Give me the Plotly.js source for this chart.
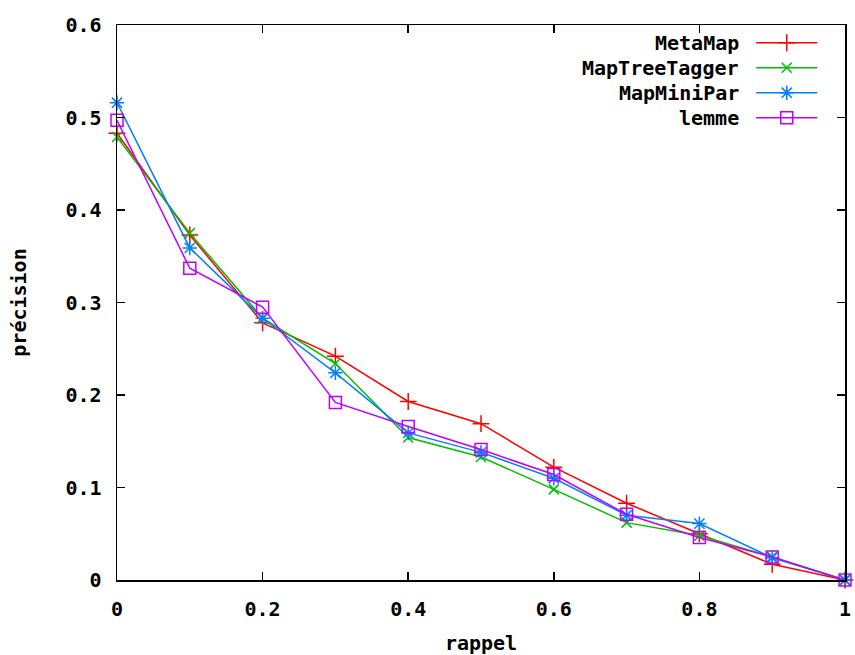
<!DOCTYPE html>
<html><head><meta charset="utf-8">
<script src="https://cdn.plot.ly/plotly-3.0.1.min.js"></script>
<style>body{margin:0;background:#fff}#chart{width:855px;height:655px}</style>
</head><body><div id="chart"></div>
<script>
const rappel = [0, 0.1, 0.2, 0.3, 0.4, 0.5, 0.6, 0.7, 0.8, 0.9, 1];
const metaMap       = [0.483, 0.373, 0.278, 0.242, 0.193, 0.169, 0.122, 0.083, 0.050, 0.017, 0];
const mapTreeTagger = [0.479, 0.375, 0.283, 0.234, 0.154, 0.133, 0.098, 0.062, 0.048, 0.025, 0];
const mapMiniPar    = [0.516, 0.359, 0.283, 0.224, 0.159, 0.138, 0.110, 0.070, 0.061, 0.024, 0];
const lemme         = [0.497, 0.337, 0.295, 0.192, 0.166, 0.141, 0.114, 0.071, 0.046, 0.025, 0];
const seriesNames = ['MetaMap', 'MapTreeTagger', 'MapMiniPar', 'lemme'];
const seriesData = [metaMap, mapTreeTagger, mapMiniPar, lemme];
const colors = ['#ff0000', '#00c000', '#0080ff', '#c000ff'];
const symbols = ['cross-thin-open', 'x-thin-open', 'asterisk-open', 'square-open'];
const sizes = [12, 10, 12, 12];
const xTicks = [0, 0.2, 0.4, 0.6, 0.8, 1];
const xTickText = ['0', '0.2', '0.4', '0.6', '0.8', '1'];
const yTicks = [0, 0.1, 0.2, 0.3, 0.4, 0.5, 0.6];
const yTickText = ['0', '0.1', '0.2', '0.3', '0.4', '0.5', '0.6'];

const FONT = '"DejaVu Sans Mono", "Liberation Mono", monospace';
const traces = [];
const shapes = [];
const annotations = [];
// legend rows (paper coords)
const legY = [0.968, 0.923, 0.878, 0.833];
seriesNames.forEach((n, i) => {
  traces.push({
    x: rappel, y: seriesData[i], type: 'scatter', mode: 'lines+markers', name: n,
    line: {color: colors[i], width: 1.5},
    marker: {symbol: symbols[i], size: sizes[i], color: colors[i], line: {color: colors[i], width: 1.5}},
    showlegend: false, cliponaxis: false
  });
  shapes.push({type: 'line', xref: 'paper', yref: 'paper', x0: 0.878, x1: 0.962, y0: legY[i], y1: legY[i],
    line: {color: colors[i], width: 1.5}});
  traces.push({
    x: [0.92], y: [legY[i]], xaxis: 'x2', yaxis: 'y2', type: 'scatter', mode: 'markers', showlegend: false,
    hoverinfo: 'skip',
    marker: {symbol: symbols[i], size: sizes[i], color: colors[i], line: {color: colors[i], width: 1.5}}
  });
  annotations.push({xref: 'paper', yref: 'paper', x: 0.857, y: legY[i], xanchor: 'right', yanchor: 'middle',
    text: '<b>' + n + '</b>', showarrow: false, font: {family: FONT, size: 20, color: '#000'}});
});

const axisCommon = {
  showgrid: false, zeroline: false, showline: true, linecolor: '#000', linewidth: 1.5, mirror: 'allticks',
  ticks: 'inside', ticklen: 8, tickwidth: 1.5, tickcolor: '#000',
  tickfont: {family: FONT, size: 20, color: '#000', weight: 'bold'}
};
const layout = {
  width: 855, height: 655,
  margin: {l: 117, r: 10, t: 25, b: 75},
  paper_bgcolor: '#fff', plot_bgcolor: '#fff',
  xaxis: Object.assign({}, axisCommon, {range: [0, 1], tickvals: xTicks, ticktext: xTickText,
    ticklabelstandoff: 10,
    title: {text: '<b>rappel</b>', font: {family: FONT, size: 20, color: '#000'}, standoff: 20}}),
  yaxis: Object.assign({}, axisCommon, {range: [0, 0.6], tickvals: yTicks, ticktext: yTickText,
    ticklabelstandoff: 10,
    title: {text: '<b>précision</b>', font: {family: FONT, size: 20, color: '#000'}, standoff: 33}}),
  xaxis2: {overlaying: 'x', range: [0, 1], visible: false, fixedrange: true},
  yaxis2: {overlaying: 'y', range: [0, 1], visible: false, fixedrange: true},
  shapes: shapes, annotations: annotations, showlegend: false
};
Plotly.newPlot('chart', traces, layout, {staticPlot: true});
</script></body></html>
